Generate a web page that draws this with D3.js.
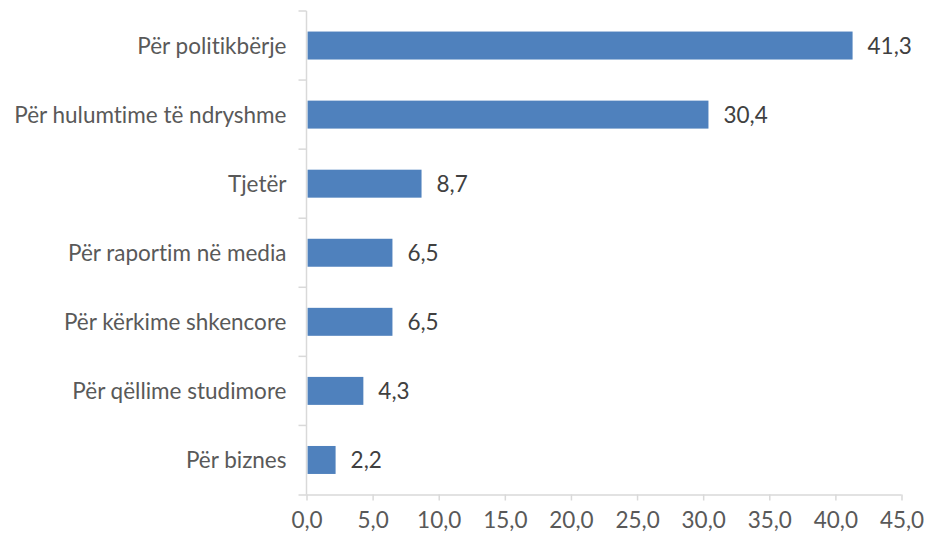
<!DOCTYPE html>
<html>
<head>
<meta charset="utf-8">
<script src="https://cdn.jsdelivr.net/npm/d3@7"></script>
<style>
  html, body { margin: 0; padding: 0; background: #fff; }
  svg { display: block; }
  text { font-family: Lato, "Open Sans", sans-serif; font-variant-ligatures: none; font-feature-settings: "liga" 0, "clig" 0; }
</style>
</head>
<body>
<svg id="chart" width="928" height="537"></svg>
<script>
// Categories, top to bottom, and their shares (%)
const categories = [
  "Për politikbërje",
  "Për hulumtime të ndryshme",
  "Tjetër",
  "Për raportim në media",
  "Për kërkime shkencore",
  "Për qëllime studimore",
  "Për biznes"
];
const values = [41.3, 30.4, 8.7, 6.5, 6.5, 4.3, 2.2];
const xTicks = [0, 5, 10, 15, 20, 25, 30, 35, 40, 45];

const svg = d3.select("#chart");
const plotLeft = 306.5, plotRight = 901.5, plotTop = 11, plotBottom = 494.5;
const axisColor = "#d9d9d9";
const labelColor = "#595959";
const valueColor = "#404040";
const fontSize = "22.5px";
const fmt = v => d3.format(".1f")(v).replace(".", ",");

const x = d3.scaleLinear().domain([0, 45]).range([plotLeft, plotRight]);
const y = d3.scaleBand().domain(categories).range([plotTop, plotBottom])
  .paddingInner(0.595).paddingOuter(0.2975);

// Bars
svg.append("g").selectAll("rect")
  .data(values)
  .join("rect")
  .attr("x", x(0) + 1)
  .attr("y", (d, i) => y(categories[i]))
  .attr("width", d => x(d) - x(0) - 1)
  .attr("height", y.bandwidth())
  .attr("fill", "#4f81bd");

// Value labels
svg.append("g").selectAll("text")
  .data(values)
  .join("text")
  .attr("x", d => x(d) + 15)
  .attr("y", (d, i) => y(categories[i]) + y.bandwidth() / 2)
  .attr("dy", "0.36em")
  .attr("fill", valueColor)
  .style("font-size", fontSize)
  .text(d => fmt(d));

// X axis
const xAxis = svg.append("g")
  .attr("transform", `translate(0,${plotBottom})`)
  .call(d3.axisBottom(x).tickValues(xTicks).tickSize(6).tickPadding(12).tickFormat(fmt));
xAxis.select(".domain").attr("d", `M${plotLeft - 8},0.5H${plotRight}`).attr("stroke", axisColor).attr("stroke-width", 1.5);
xAxis.selectAll(".tick line").attr("stroke", axisColor).attr("stroke-width", 1.5);
xAxis.selectAll(".tick text").style("font-size", fontSize).attr("fill", labelColor)
  .style("font-family", "Lato, 'Open Sans', sans-serif");

// Y axis: line with ticks at band boundaries
const yg = svg.append("g");
yg.append("line")
  .attr("x1", plotLeft).attr("x2", plotLeft).attr("y1", plotTop).attr("y2", plotBottom)
  .attr("stroke", axisColor).attr("stroke-width", 1.5);
const bounds = d3.range(categories.length).map(i => plotTop + i * y.step());
yg.selectAll("line.t")
  .data(bounds)
  .join("line")
  .attr("class", "t")
  .attr("x1", plotLeft - 8).attr("x2", plotLeft)
  .attr("y1", d => d).attr("y2", d => d)
  .attr("stroke", axisColor).attr("stroke-width", 1.5);

// Category labels
yg.selectAll("text")
  .data(categories)
  .join("text")
  .attr("x", plotLeft - 20)
  .attr("y", d => y(d) + y.bandwidth() / 2)
  .attr("dy", "0.36em")
  .attr("text-anchor", "end")
  .attr("fill", labelColor)
  .style("font-size", fontSize)
  .text(d => d);
</script>
</body>
</html>
